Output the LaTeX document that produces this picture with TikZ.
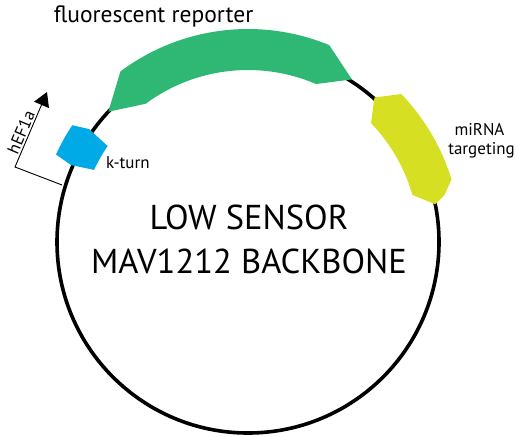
\documentclass[tikz,border=0pt]{standalone}
\usepackage{fontspec}
\setmainfont{PT Sans}
\usetikzlibrary{arrows.meta}
\definecolor{repgreen}{RGB}{46,184,115}
\definecolor{kblue}{RGB}{0,170,231}
\definecolor{miyellow}{RGB}{215,223,35}
\tikzset{
  backbone/.style={line width=3.6pt, draw=black},
  lbl/.style={inner sep=0pt, anchor=base, text=black},
  small/.style={font=\fontsize{17}{20}\selectfont},
  promarrow/.style={line width=0.9pt, -{Triangle[length=14pt,width=16pt]}},
}
\begin{document}
\begin{tikzpicture}[x=1pt,y=1pt]
\useasboundingbox (0,0) rectangle (518,-436);
\coordinate (C) at (248,-242);
\draw[backbone] (C) circle[radius=191];
\begin{scope}[shift={(248,-242)}]
  % fluorescent reporter
  \fill[repgreen] (126.8:213) arc[start angle=126.8, end angle=67.6, radius=213]
    -- (57.4:193) -- (66.7:172) arc[start angle=66.7, end angle=126.5, radius=172]
    -- (137:191) -- cycle;
  % miRNA targeting
  \fill[miyellow] (44:213) arc[start angle=44, end angle=17, radius=212]
    -- (13.4:202) -- (11.4:191) -- (16:171) arc[start angle=16, end angle=44, radius=171]
    -- (48.8:192) -- cycle;
  % k-turn
  \fill[kblue] (146.4:211) arc[start angle=146.4, end angle=155.5, radius=211]
    -- (156.5:193) -- (154.9:170) arc[start angle=154.9, end angle=145.7, radius=171]
    -- (144.6:195) -- cycle;
\end{scope}
% promoter
\coordinate (p0) at (62,-185);
\coordinate (p1) at (15,-167);
\coordinate (ptip) at (47,-92);
\draw[promarrow] (p0) -- (p1) -- node[sloped, above, pos=0.42, inner sep=1.5pt, small] (hef) {hEF1a} (ptip);
% labels
\node[lbl, font=\fontsize{23.5}{28}\selectfont] (fr) at (153.5,-23) {fluorescent reporter};
\node[lbl, small, anchor=base west] (kt) at (106,-168) {k-turn};
\node[lbl, small] (mi1) at (479.5,-135) {miRNA};
\node[lbl, small] (mi2) at (481.5,-154) {targeting};
\node[lbl, font=\fontsize{34.5}{40}\selectfont] (t1) at (249,-229) {LOW SENSOR};
\node[lbl, font=\fontsize{34.5}{40}\selectfont] (t2) at (249,-273) {MAV1212 BACKBONE};
\end{tikzpicture}
\end{document}
